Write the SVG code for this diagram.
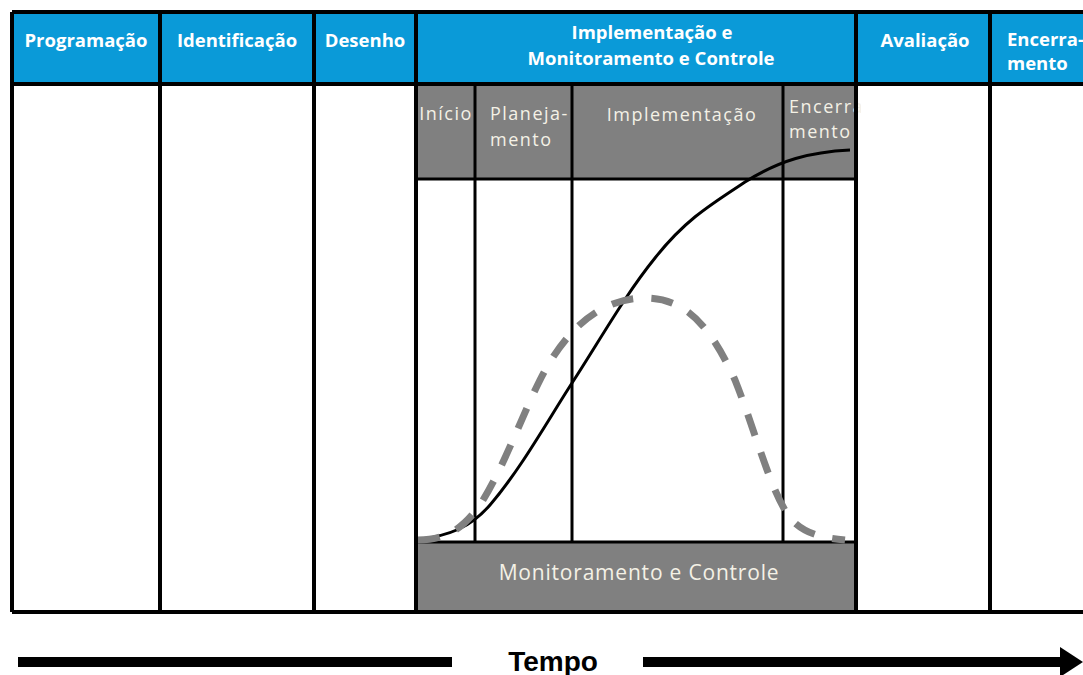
<svg xmlns="http://www.w3.org/2000/svg" width="1083" height="675" viewBox="0 0 1083 675">
  <style>
    .hdr { fill: #0a9ad8; }
    .gray { fill: #808080; }
    .line { stroke: #000; stroke-width: 4; fill: none; }
    .thin { stroke: #000; stroke-width: 3; fill: none; }
    .htxt { font-family: "Open Sans", "Noto Sans", sans-serif; font-weight: bold; font-size: 18.5px; fill: #fff; }
    .gtxt { font-family: "Open Sans", "Noto Sans", sans-serif; font-size: 18px; letter-spacing: 1.5px; fill: #f4f1e6; }
    .mtxt { font-family: "Open Sans", "Noto Sans", sans-serif; font-size: 21px; letter-spacing: 0.8px; fill: #f4f1e6; }
    .ttxt { font-family: "Liberation Sans", Arial, sans-serif; font-weight: bold; font-size: 28px; fill: #000; }
  </style>
  <defs>
    <clipPath id="encClip"><rect x="783" y="86" width="78" height="92"/></clipPath>
  </defs>

  <rect width="1083" height="675" fill="#fff"/>

  <!-- header band -->
  <rect class="hdr" x="12" y="12" width="1075" height="72"/>

  <!-- phase columns -->
  <g id="programacao">
    <text class="htxt" x="86" y="47" text-anchor="middle">Programação</text>
  </g>
  <g id="identificacao">
    <text class="htxt" x="237" y="47" text-anchor="middle">Identificação</text>
  </g>
  <g id="desenho">
    <text class="htxt" x="365" y="47" text-anchor="middle">Desenho</text>
  </g>
  <g id="implementacao-monitoramento">
    <rect class="gray" x="416" y="86" width="440" height="93"/>
    <rect class="gray" x="416" y="542" width="440" height="70"/>
    <text class="htxt" x="652" y="39" text-anchor="middle">Implementação e</text>
    <text class="htxt" x="651" y="65" text-anchor="middle">Monitoramento e Controle</text>
  </g>
  <g id="avaliacao">
    <text class="htxt" x="925" y="47" text-anchor="middle">Avaliação</text>
  </g>
  <g id="encerramento">
    <text class="htxt" x="1007" y="46">Encerra-</text>
    <text class="htxt" x="1007" y="70">mento</text>
  </g>

  <!-- sub-phases -->
  <g id="inicio">
    <text class="gtxt" x="446" y="120" text-anchor="middle">Início</text>
  </g>
  <g id="planejamento">
    <text class="gtxt" x="490" y="120">Planeja-</text>
    <text class="gtxt" x="490" y="146">mento</text>
  </g>
  <g id="implementacao">
    <text class="gtxt" x="682" y="121" text-anchor="middle">Implementação</text>
  </g>
  <g id="encerramento-sub" clip-path="url(#encClip)">
    <text class="gtxt" x="789" y="113">Encerra</text>
    <text class="gtxt" x="789" y="138">mento</text>
  </g>
  <g id="monitoramento-controle">
    <text class="mtxt" x="639" y="580" text-anchor="middle">Monitoramento e Controle</text>
  </g>

  <!-- grid lines -->
  <g id="grid">
    <path class="line" d="M12 12 H1090 M12 84 H1090 M12 612 H1090"/>
    <path class="line" d="M12 12 V612 M160 12 V612 M314 12 V612 M416 12 V612 M856 12 V612 M990 12 V612"/>
    <path class="thin" d="M416 179 H856 M416 542 H856"/>
    <path class="thin" d="M475 86 V542 M572 86 V542 M783 86 V542"/>
  </g>

  <!-- curves -->
  <g id="connectors">
    <path d="M418 540 C450 535 470 528 490 505 C520 470 545 425 572 383 C600 340 625 295 655 258 C685 220 710 205 745 182 C780 160 810 152 850 150" fill="none" stroke="#000" stroke-width="3"/>
    <path d="M418 540 C450 540 465 525 480 505 C505 465 520 420 540 380 C565 330 600 298 645 298 C685 298 710 325 735 380 C755 430 770 490 790 518 C805 535 825 538 845 540" fill="none" stroke="#808080" stroke-width="7" stroke-dasharray="22 18"/>
  </g>

  <!-- time axis -->
  <g id="tempo">
    <path d="M18 662 H452" stroke="#000" stroke-width="10"/>
    <path d="M643 662 H1062" stroke="#000" stroke-width="10"/>
    <polygon points="1060,647 1083,662 1060,677" fill="#000"/>
    <text class="ttxt" x="553" y="671" text-anchor="middle">Tempo</text>
  </g>
</svg>
